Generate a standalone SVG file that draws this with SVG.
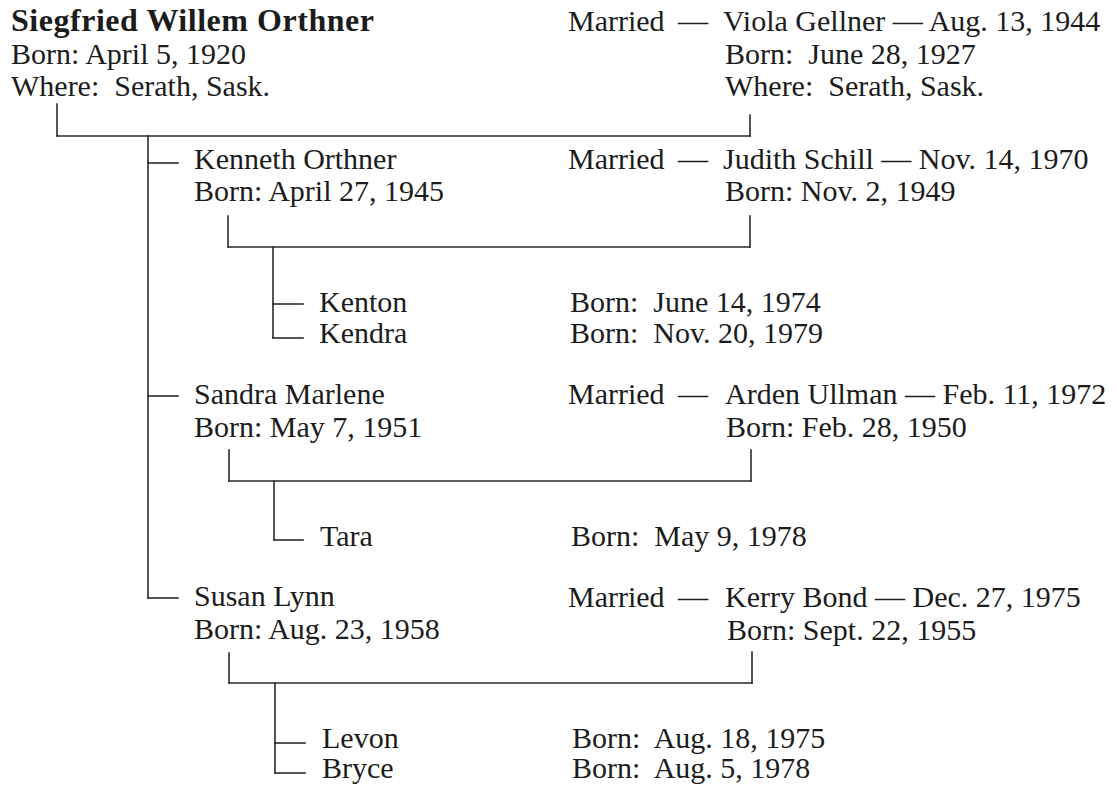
<svg xmlns="http://www.w3.org/2000/svg" width="1117" height="789" viewBox="0 0 1117 789">
<style>
text{font-family:"Liberation Serif","Times New Roman",serif;font-size:30px;fill:#1c1c1c}
.b{font-weight:bold;font-size:32px}
#connectors line{stroke:#2a2a2a;stroke-width:1.6;stroke-linecap:square}
</style>
<rect width="1117" height="789" fill="#fff"/>
<g id="connectors">
<line x1="57" y1="104" x2="57" y2="136"/>
<line x1="57" y1="136" x2="750" y2="136"/>
<line x1="750" y1="115" x2="750" y2="136"/>
<line x1="148" y1="136" x2="148" y2="598"/>
<line x1="148" y1="163" x2="178" y2="163"/>
<line x1="148" y1="396" x2="178" y2="396"/>
<line x1="148" y1="598" x2="178" y2="598"/>
<line x1="228" y1="216" x2="228" y2="247"/>
<line x1="228" y1="247" x2="750" y2="247"/>
<line x1="750" y1="216" x2="750" y2="247"/>
<line x1="273" y1="247" x2="273" y2="338"/>
<line x1="273" y1="304" x2="303" y2="304"/>
<line x1="273" y1="338" x2="303" y2="338"/>
<line x1="229" y1="450" x2="229" y2="481"/>
<line x1="229" y1="481" x2="751" y2="481"/>
<line x1="751" y1="450" x2="751" y2="481"/>
<line x1="274" y1="481" x2="274" y2="540"/>
<line x1="274" y1="540" x2="303" y2="540"/>
<line x1="229" y1="653" x2="229" y2="683"/>
<line x1="229" y1="683" x2="752" y2="683"/>
<line x1="752" y1="652" x2="752" y2="683"/>
<line x1="275" y1="683" x2="275" y2="773"/>
<line x1="275" y1="743" x2="305" y2="743"/>
<line x1="275" y1="773" x2="305" y2="773"/>
</g>
<g id="siegfried">
<text class="b" x="11" y="31" textLength="363" lengthAdjust="spacing">Siegfried Willem Orthner</text>
<text x="11" y="64">Born: April 5, 1920</text>
<text x="11" y="96">Where:&#160; Serath, Sask.</text>
</g>
<g id="viola">
<text y="31"><tspan x="568">Married</tspan><tspan x="678">—</tspan><tspan x="723">Viola Gellner — Aug. 13, 1944</tspan></text>
<text x="725" y="64">Born:&#160; June 28, 1927</text>
<text x="725" y="96">Where:&#160; Serath, Sask.</text>
</g>
<g id="kenneth">
<text x="194" y="169">Kenneth Orthner</text>
<text x="194" y="201">Born: April 27, 1945</text>
</g>
<g id="judith">
<text y="169"><tspan x="568">Married</tspan><tspan x="678">—</tspan><tspan x="723">Judith Schill — Nov. 14, 1970</tspan></text>
<text x="725" y="201">Born: Nov. 2, 1949</text>
</g>
<g id="kenton">
<text x="319" y="312">Kenton</text>
<text x="570" y="312">Born:&#160; June 14, 1974</text>
</g>
<g id="kendra">
<text x="319" y="343">Kendra</text>
<text x="570" y="343">Born:&#160; Nov. 20, 1979</text>
</g>
<g id="sandra">
<text x="194" y="404">Sandra Marlene</text>
<text x="194" y="437">Born: May 7, 1951</text>
</g>
<g id="arden">
<text y="404"><tspan x="568">Married</tspan><tspan x="678">—</tspan><tspan x="725">Arden Ullman — Feb. 11, 1972</tspan></text>
<text x="726" y="437">Born: Feb. 28, 1950</text>
</g>
<g id="tara">
<text x="320" y="546">Tara</text>
<text x="571" y="546">Born:&#160; May 9, 1978</text>
</g>
<g id="susan">
<text x="194" y="606">Susan Lynn</text>
<text x="194" y="639">Born: Aug. 23, 1958</text>
</g>
<g id="kerry">
<text y="607"><tspan x="568">Married</tspan><tspan x="678">—</tspan><tspan x="725">Kerry Bond — Dec. 27, 1975</tspan></text>
<text x="727" y="640">Born: Sept. 22, 1955</text>
</g>
<g id="levon">
<text x="322" y="748">Levon</text>
<text x="572" y="748">Born:&#160; Aug. 18, 1975</text>
</g>
<g id="bryce">
<text x="322" y="778">Bryce</text>
<text x="572" y="778">Born:&#160; Aug. 5, 1978</text>
</g>
</svg>
